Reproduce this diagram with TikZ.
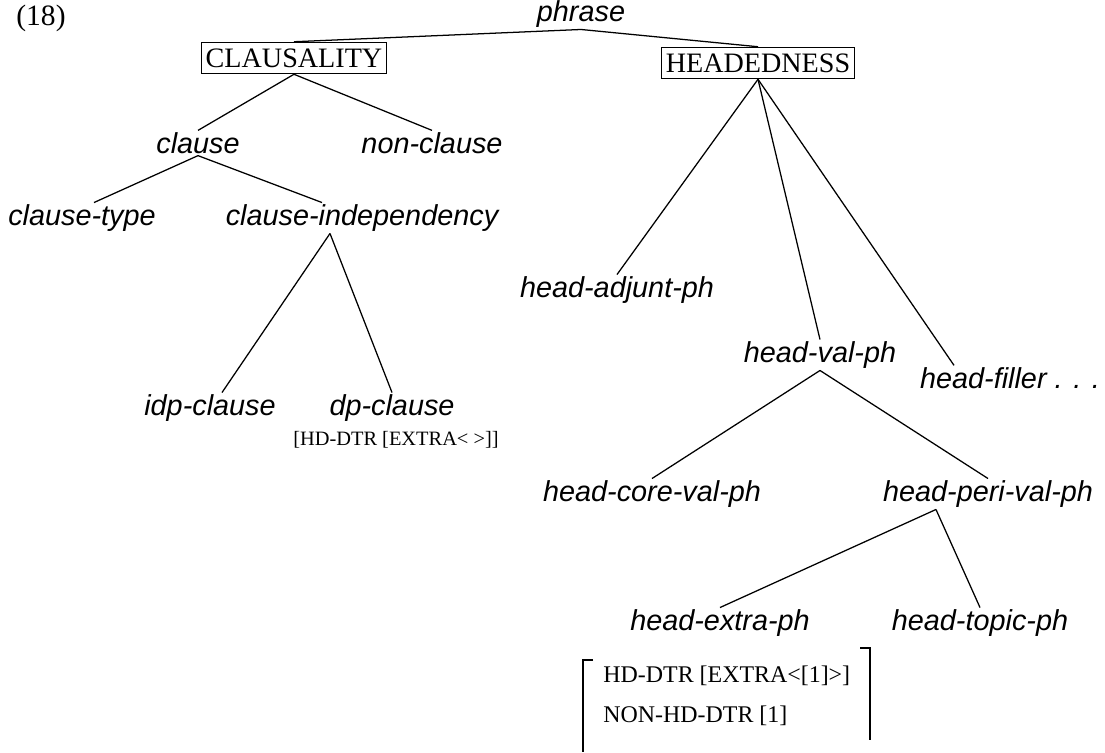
\documentclass[tikz,border=0pt]{standalone}
\usepackage{fontspec}
\setmainfont{Liberation Serif}
\newfontfamily\typefont{Liberation Sans}
\tikzset{
	typ/.style={font=\typefont\itshape\fontsize{20.5}{24}\selectfont, inner sep=1pt},
	feat/.style={font=\fontsize{17}{20}\selectfont, inner sep=2pt},
	featbox/.style={font=\fontsize{20}{24}\selectfont, draw, line width=0.7pt, inner xsep=3pt, inner ysep=4.5pt},
	every path/.style={line width=0.9pt},
}

\begin{document}
\begin{tikzpicture}[x=0.025cm, y=-0.025cm]
			\useasboundingbox (0,0) rectangle (1105,752);
			\node (num)[font=\fontsize{21}{25}\selectfont] at (41,18) {(18)};
			\node (phrase)[typ] at (581,14) {phrase};
			\node (claus)[featbox] at (294,58) {CLAUSALITY};
			\node (heads)[featbox] at (758,63) {HEADEDNESS};
			% clausality side
			\node (clause)[typ] at (198,143) {clause};
			\node (nonclause)[typ] at (432,143) {non-clause};
			\node (ctype)[typ] at (82,218) {clause-type};
			\node (cindep)[typ] at (362,218) {clause-independency};
			\node (idp)[typ] at (210,408) {idp-clause};
			\node (dp)[typ] at (392,408) {dp-clause};
			\node (dpfeat)[feat, font=\fontsize{14.5}{17}\selectfont] at (396,440) {[HD-DTR [EXTRA\textless\ \textgreater]]};
			% headedness side
			\node (hadj)[typ] at (617,290) {head-adjunt-ph};
			\node (hval)[typ] at (820,355) {head-val-ph};
			\node (hfill)[typ, anchor=west] at (918,378) {head-filler . . .};
			\node (hcore)[typ] at (652,494) {head-core-val-ph};
			\node (hperi)[typ] at (988,494) {head-peri-val-ph};
			\node (hextra)[typ] at (720,623) {head-extra-ph};
			\node (htopic)[typ] at (980,623) {head-topic-ph};
			\node (hxfeat)[feat, anchor=west] at (600,676) {HD-DTR [EXTRA\textless[1]\textgreater]};
			\node (hxnon)[feat, anchor=west] at (600,716) {NON-HD-DTR [1]};

			\draw (phrase.south) -- (claus.north);
			\draw (phrase.south) -- (heads.north);
			\draw (claus.south) -- (clause.north);
			\draw (claus.south) -- (nonclause.north);
			\draw (clause.south) -- ([xshift=0.3cm]ctype.north);
			\draw (clause.south) -- ([xshift=-1.0cm]cindep.north);
			\draw ([xshift=-0.8cm]cindep.south) -- ([xshift=0.3cm]idp.north);
			\draw ([xshift=-0.8cm]cindep.south) -- (dp.north);
			\draw (heads.south) -- (hadj.north);
			\draw (heads.south) -- (hval.north);
			\draw (heads.south) -- ([xshift=0.9cm]hfill.north west);
			\draw (hval.south) -- (hcore.north);
			\draw (hval.south) -- (hperi.north);
			\draw ([xshift=-1.3cm]hperi.south) -- (hextra.north);
			\draw ([xshift=-1.3cm]hperi.south) -- (htopic.north);
			% brackets of the feature matrix
			\draw (593,660) -- (583,660) -- (583,752);
			\draw (860,648) -- (870,648) -- (870,740);
		\end{tikzpicture}
\end{document}
